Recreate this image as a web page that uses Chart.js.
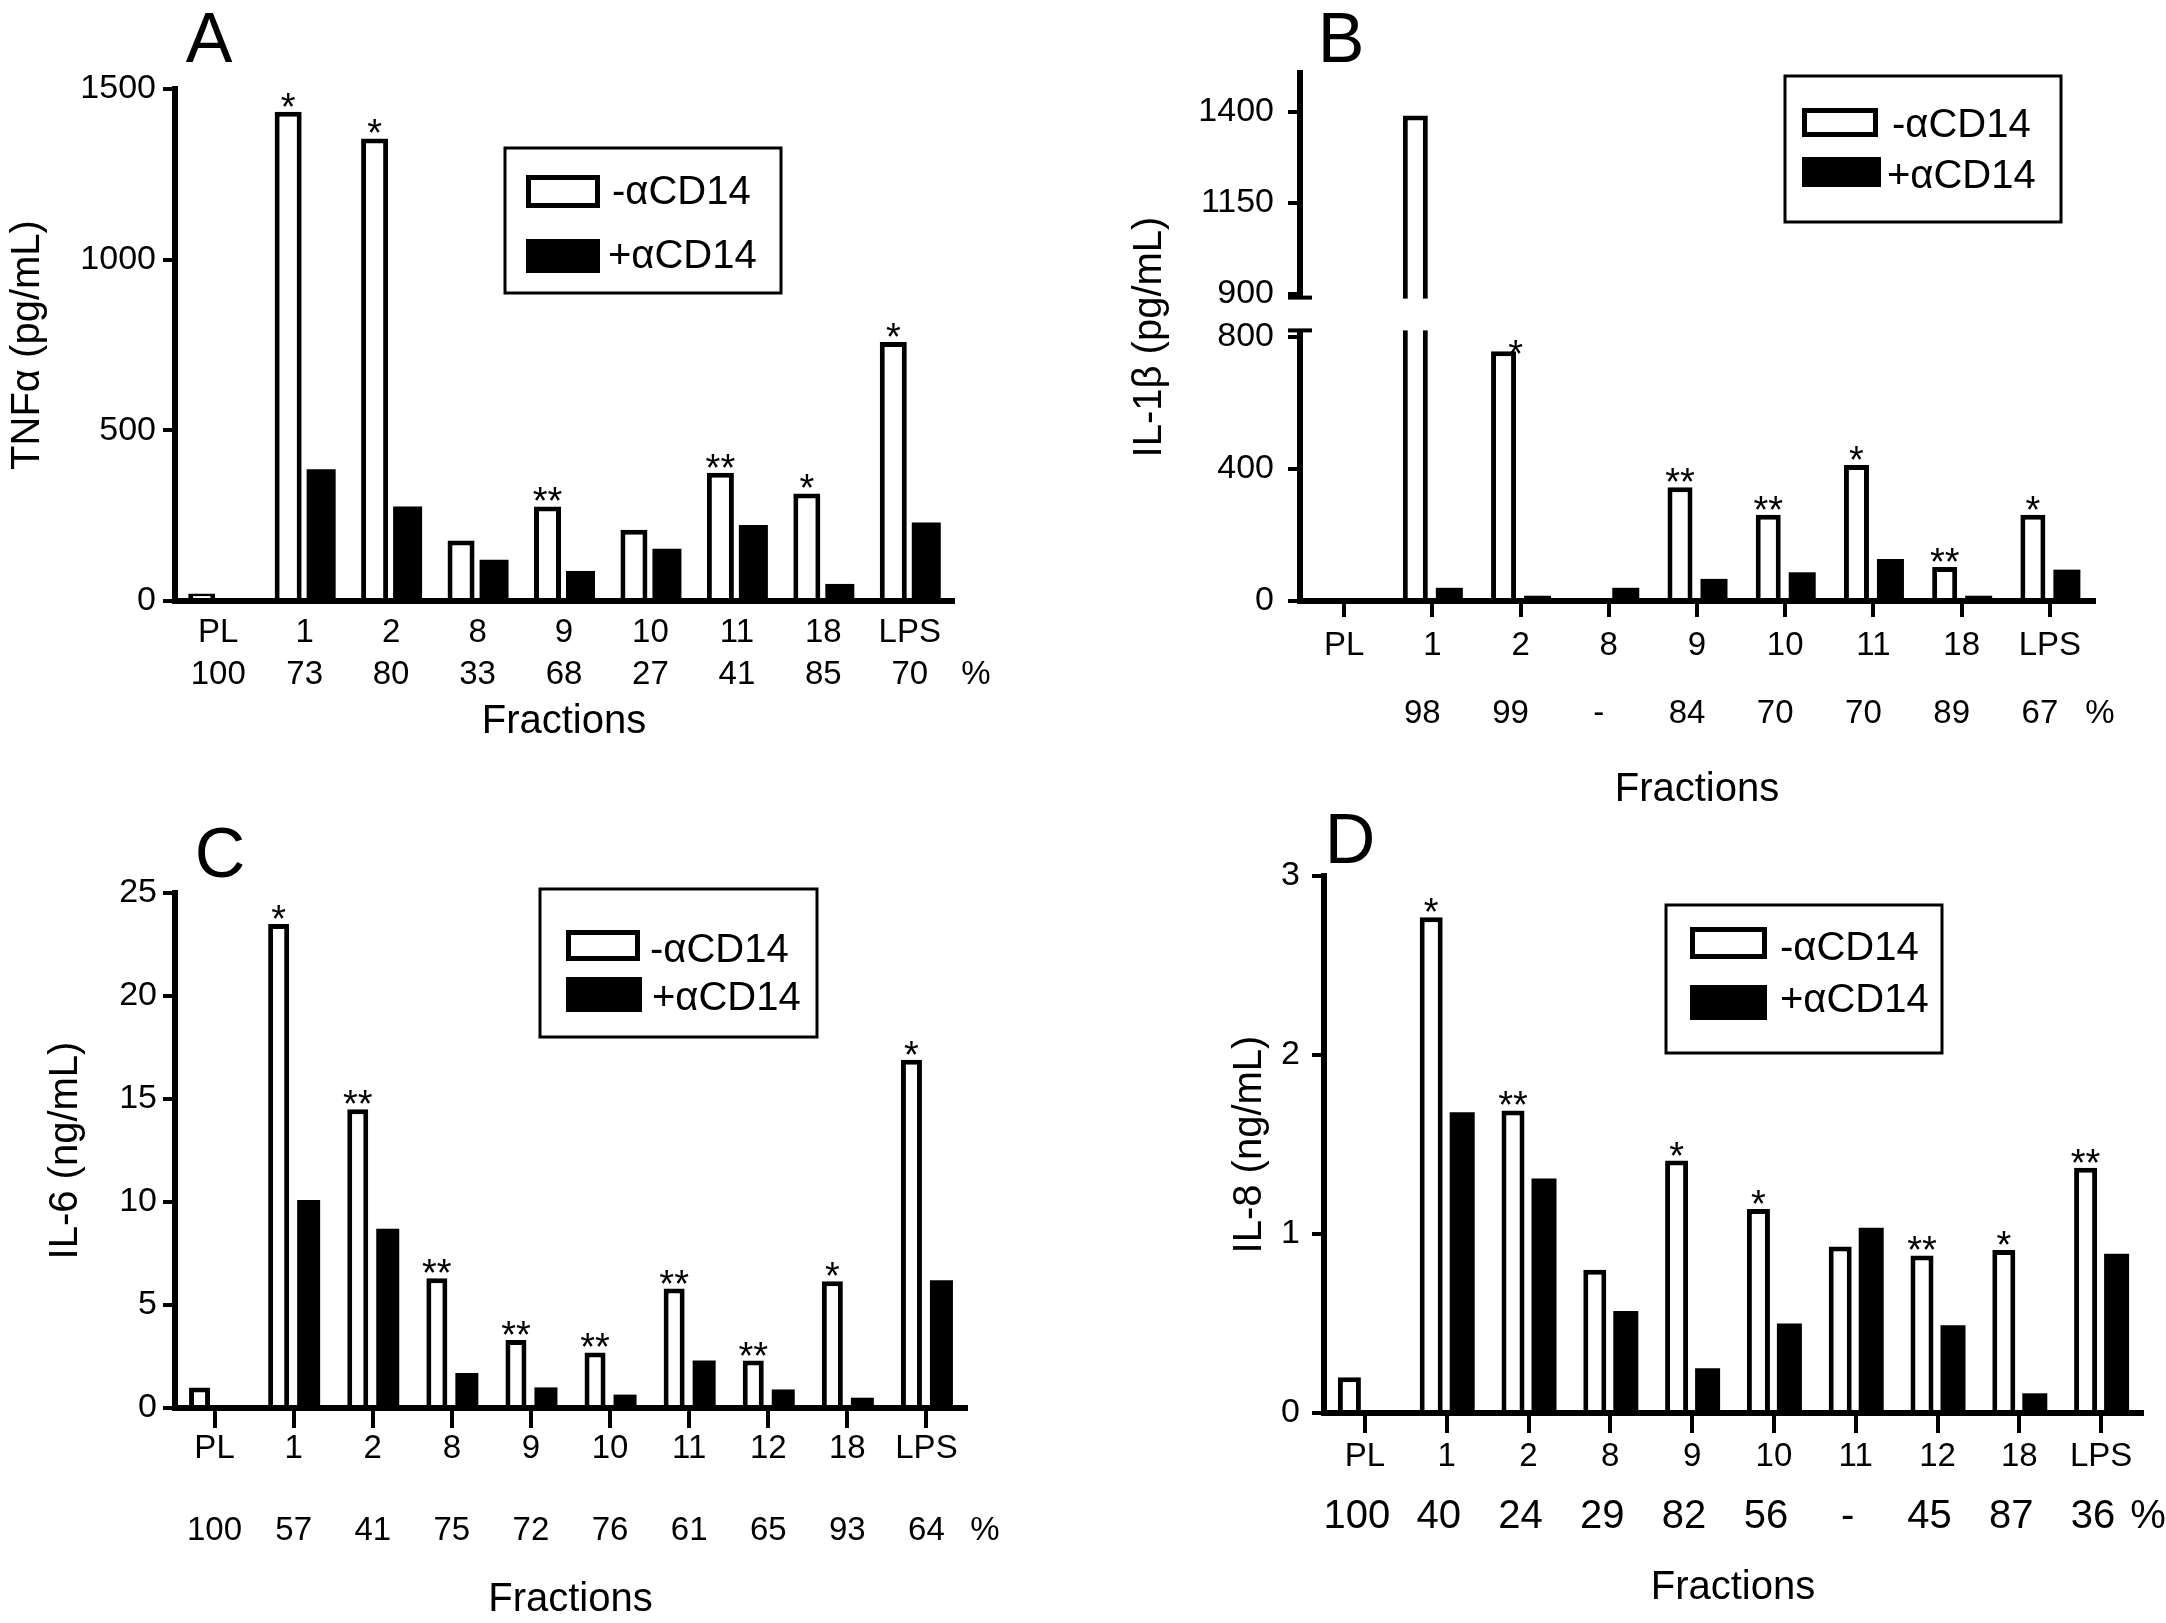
<!DOCTYPE html>
<html>
<head>
<meta charset="utf-8">
<script src="https://cdn.jsdelivr.net/npm/chart.js@4.4.1/dist/chart.umd.min.js"></script>
<style>
  html, body { margin: 0; padding: 0; background: #fff; }
  #page { position: relative; width: 2166px; height: 1623px; overflow: hidden; background: #fff; }
  #page canvas { position: absolute; left: 0; top: 0; }
</style>
</head>
<body>
<div id="page">
  <canvas id="chartA" width="2166" height="1623"></canvas>
  <canvas id="chartB" width="2166" height="1623"></canvas>
  <canvas id="chartC" width="2166" height="1623"></canvas>
  <canvas id="chartD" width="2166" height="1623"></canvas>
</div>
<script>
// ---- data ----
const seriesNames = ['-\u03b1CD14', '+\u03b1CD14'];

// A - TNFa
const catsA  = ['PL', '1', '2', '8', '9', '10', '11', '18', 'LPS'];
const pctA   = ['100', '73', '80', '33', '68', '27', '41', '85', '70'];
const minusA = [22, 1433, 1355, 177, 277, 209, 376, 315, 759];
const plusA  = [0, 386, 277, 121, 88, 153, 223, 50, 230];
const starsA = ['', '*', '*', '', '**', '', '**', '*', '*'];
const yTicksA = [0, 500, 1000, 1500];

// B - IL-1b (broken axis)
const catsB  = ['PL', '1', '2', '8', '9', '10', '11', '18', 'LPS'];
const pctB   = ['', '98', '99', '-', '84', '70', '70', '89', '67'];
const minusB = [0, 1390, 757, 0, 345, 261, 412, 103, 261];
const plusB  = [0, 40, 16, 40, 67, 87, 127, 16, 95];
const starsB = ['', '', '*', '', '**', '**', '*', '**', '*'];
const yTicksB = [0, 400, 800, 900, 1150, 1400];

// C - IL-6
const catsC  = ['PL', '1', '2', '8', '9', '10', '11', '12', '18', 'LPS'];
const pctC   = ['100', '57', '41', '75', '72', '76', '61', '65', '93', '64'];
const minusC = [1.0, 23.5, 14.5, 6.3, 3.3, 2.7, 5.8, 2.3, 6.15, 16.9];
const plusC  = [0, 10.1, 8.7, 1.7, 1.0, 0.65, 2.3, 0.9, 0.5, 6.2];
const starsC = ['', '*', '**', '**', '**', '**', '**', '**', '*', '*'];
const yTicksC = [0, 5, 10, 15, 20, 25];

// D - IL-8
const catsD  = ['PL', '1', '2', '8', '9', '10', '11', '12', '18', 'LPS'];
const pctD   = ['100', '40', '24', '29', '82', '56', '-', '45', '87', '36'];
const minusD = [0.2, 2.77, 1.69, 0.8, 1.41, 1.14, 0.93, 0.88, 0.91, 1.37];
const plusD  = [0, 1.68, 1.31, 0.57, 0.25, 0.5, 1.035, 0.49, 0.11, 0.89];
const starsD = ['', '*', '**', '', '*', '*', '', '**', '*', '**'];
const yTicksD = [0, 1, 2, 3];

// ---- setup ----
const W = 2166, H = 1623;
const FONT = "'Liberation Sans', Arial, Helvetica, sans-serif";
Chart.defaults.font.family = FONT;
Chart.defaults.color = '#000';

// broken y axis for panel B: lower part 0..820, upper part 890..max
const brkB = { lowMax: 820, highMin: 890, lowFrac: 0.5125, highFrac: 0.5746 };

class BrokenScale extends Chart.LinearScale {
  static id = 'broken';
  getPixelForValue(value) {
    const h = this.bottom - this.top;
    const b = brkB;
    let f;
    if (value <= b.lowMax) {
      f = (value - this.min) / (b.lowMax - this.min) * b.lowFrac;
    } else if (value >= b.highMin) {
      f = b.highFrac + (value - b.highMin) / (this.max - b.highMin) * (1 - b.highFrac);
    } else {
      f = b.lowFrac + (value - b.lowMax) / (b.highMin - b.lowMax) * (b.highFrac - b.lowFrac);
    }
    return this.bottom - f * h;
  }
}
Chart.register(BrokenScale);

const panels = [
  { id: 'chartA', letter: 'A', letterPos: [209, 62], cats: catsA, minus: minusA, plus: plusA,
    stars: starsA, pct: pctA, yTicks: yTicksA, yMax: 1500, yTitle: 'TNF\u03b1 (pg/mL)',
    area: [175, 89, 953, 601], yTitleX: 28, xTitleY: 722, yPad: 7, xTick: 0, catPad: 15,
    pctY: 675, pctFont: 33, pctDx: 0, pctEndX: 976, chunk: 33, barW: [27, 29],
    legend: { box: [505, 148, 781, 293], rows: [[526, 175, 600, 208, 612, 193], [526, 239, 600, 273, 608, 257]] } },
  { id: 'chartB', letter: 'B', letterPos: [1341, 62], cats: catsB, minus: minusB, plus: plusB,
    stars: starsB, pct: pctB, yTicks: yTicksB, yMax: 1507, yTitle: 'IL-1\u03b2 (pg/mL)', broken: true,
    area: [1300, 73, 2094, 601], yTitleX: 1150, xTitleY: 790, yPad: 14, xTick: 16, catPad: 12,
    pctY: 714, pctFont: 33, pctDx: -10, pctEndX: 2100, chunk: 34, barW: [25, 27], starShift: { 2: [12, 8] },
    legend: { box: [1785, 76, 2061, 222], rows: [[1802, 108, 1878, 137, 1892, 126], [1802, 157, 1881, 187, 1887, 177]] } },
  { id: 'chartC', letter: 'C', letterPos: [220, 877], cats: catsC, minus: minusC, plus: plusC,
    stars: starsC, pct: pctC, yTicks: yTicksC, yMax: 25, yTitle: 'IL-6 (ng/mL)',
    area: [175, 893, 966, 1408], yTitleX: 66, xTitleY: 1600, yPad: 6, xTick: 20, catPad: 4,
    pctY: 1531, pctFont: 33, pctDx: 0, pctEndX: 985, chunk: 30, barW: [21, 23],
    legend: { box: [540, 889, 817, 1037], rows: [[566, 930, 640, 961, 650, 951], [566, 977, 642, 1012, 652, 999]] } },
  { id: 'chartD', letter: 'D', letterPos: [1350, 863], cats: catsD, minus: minusD, plus: plusD,
    stars: starsD, pct: pctD, yTicks: yTicksD, yMax: 3, yTitle: 'IL-8 (ng/mL)',
    area: [1324, 876, 2142, 1413], yTitleX: 1250, xTitleY: 1588, yPad: 12, xTick: 20, catPad: 7,
    pctY: 1517, pctFont: 40, pctDx: -8, pctEndX: 2148, chunk: 31, barW: [23, 25],
    legend: { box: [1666, 905, 1942, 1053], rows: [[1690, 927, 1767, 959, 1780, 949], [1690, 985, 1767, 1020, 1780, 1001]] } }
];

// extra drawing: significance stars, % row, panel letter, legend box, axis break
function decorPlugin(p) {
  return {
    id: 'decor',
    afterDatasetsDraw(chart) {
      if (!p.broken) return;
      const ctx = chart.ctx, ys = chart.scales.y;
      const yLow = ys.getPixelForValue(brkB.lowMax);
      const yHigh = ys.getPixelForValue(brkB.highMin);
      ctx.save();
      ctx.fillStyle = '#fff';
      ctx.fillRect(chart.chartArea.left - 12, yHigh + 1, chart.chartArea.right - chart.chartArea.left + 12, yLow - yHigh - 1);
      ctx.restore();
    },
    afterDraw(chart) {
      const ctx = chart.ctx;
      const xs = chart.scales.x;
      const ys = chart.scales.y;
      const area = chart.chartArea;
      ctx.save();
      ctx.fillStyle = '#000';
      ctx.strokeStyle = '#000';

      // axis break marks
      if (p.broken) {
        ctx.lineWidth = 4;
        [brkB.highMin, brkB.lowMax].forEach(v => {
          const y = ys.getPixelForValue(v);
          ctx.beginPath();
          ctx.moveTo(area.left - 12, y);
          ctx.lineTo(area.left + 12, y);
          ctx.stroke();
        });
      }

      // stars above the white bars
      const meta = chart.getDatasetMeta(0);
      ctx.font = '38px ' + FONT;
      ctx.textAlign = 'center';
      ctx.textBaseline = 'alphabetic';
      p.stars.forEach((s, i) => {
        if (!s) return;
        const bar = meta.data[i];
        const sh = (p.starShift && p.starShift[i]) || [0, 0];
        ctx.fillText(s, bar.x + sh[0], bar.y + 8 + sh[1]);
      });

      // percentage row
      ctx.font = p.pctFont + 'px ' + FONT;
      ctx.textBaseline = 'middle';
      p.pct.forEach((t, i) => {
        if (t) ctx.fillText(t, xs.getPixelForValue(i) + p.pctDx, p.pctY);
      });
      ctx.fillText('%', p.pctEndX, p.pctY);

      // panel letter
      ctx.font = '70px ' + FONT;
      ctx.textBaseline = 'alphabetic';
      ctx.fillText(p.letter, p.letterPos[0], p.letterPos[1]);

      // legend
      const lg = p.legend;
      ctx.lineWidth = 3;
      ctx.strokeRect(lg.box[0], lg.box[1], lg.box[2] - lg.box[0], lg.box[3] - lg.box[1]);
      ctx.font = '40px ' + FONT;
      ctx.textAlign = 'left';
      ctx.textBaseline = 'middle';
      chart.data.datasets.forEach((ds, k) => {
        const r = lg.rows[k];
        ctx.fillStyle = ds.backgroundColor;
        ctx.fillRect(r[0], r[1], r[2] - r[0], r[3] - r[1]);
        if (ds.borderWidth) {
          ctx.lineWidth = 5;
          ctx.strokeRect(r[0] + 2.5, r[1] + 2.5, r[2] - r[0] - 5, r[3] - r[1] - 5);
        }
        ctx.fillStyle = '#000';
        ctx.fillText(ds.label, r[4], r[5]);
      });
      ctx.restore();
    }
  };
}

function makeChart(p) {
  const [L, T, R, B] = p.area;
  const yW = L - (p.yTitleX - 20);
  const xH = p.xTitleY + 20 - B;
  const catW = (R - L) / p.cats.length;
  const catPct = 2 * p.chunk / catW;
  return new Chart(document.getElementById(p.id), {
    type: 'bar',
    data: {
      labels: p.cats,
      datasets: [
        { label: seriesNames[0], data: p.minus, backgroundColor: '#fff', borderColor: '#000', borderWidth: 5,
          maxBarThickness: p.barW[0], barPercentage: 1, categoryPercentage: catPct },
        { label: seriesNames[1], data: p.plus, backgroundColor: '#000', borderColor: '#000', borderWidth: 0,
          maxBarThickness: p.barW[1], barPercentage: 1, categoryPercentage: catPct }
      ]
    },
    options: {
      responsive: false,
      animation: false,
      devicePixelRatio: 1,
      layout: { padding: { left: L - yW, top: T, right: W - R, bottom: H - B - xH } },
      plugins: { legend: { display: false }, tooltip: { enabled: false } },
      scales: {
        x: {
          offset: true,
          grid: { display: p.xTick > 0, drawOnChartArea: false, drawTicks: p.xTick > 0, tickLength: p.xTick,
                  lineWidth: 4, color: '#000', offset: false },
          border: { display: true, color: '#000', width: 6, z: 1 },
          ticks: { autoSkip: false, maxRotation: 0, padding: p.catPad, color: '#000',
                   font: { family: FONT, size: 33, lineHeight: 1 } },
          title: { display: true, text: 'Fractions', color: '#000', padding: 0,
                   font: { family: FONT, size: 40, lineHeight: 1 } },
          afterFit: s => { s.height = xH; }
        },
        y: {
          type: p.broken ? 'broken' : 'linear',
          min: 0,
          max: p.yMax,
          afterBuildTicks: s => { s.ticks = p.yTicks.map(v => ({ value: v })); },
          grid: { drawOnChartArea: false, drawTicks: true, tickLength: 12, lineWidth: 4, color: '#000' },
          border: { display: true, color: '#000', width: 6 },
          ticks: { autoSkip: false, padding: p.yPad, color: '#000', font: { family: FONT, size: 34 },
                   callback: v => String(v) },
          title: { display: true, text: p.yTitle, color: '#000', padding: 0,
                   font: { family: FONT, size: 40, lineHeight: 1 } },
          afterFit: s => { s.width = yW; }
        }
      }
    },
    plugins: [decorPlugin(p)]
  });
}

panels.forEach(makeChart);
</script>
</body>
</html>
